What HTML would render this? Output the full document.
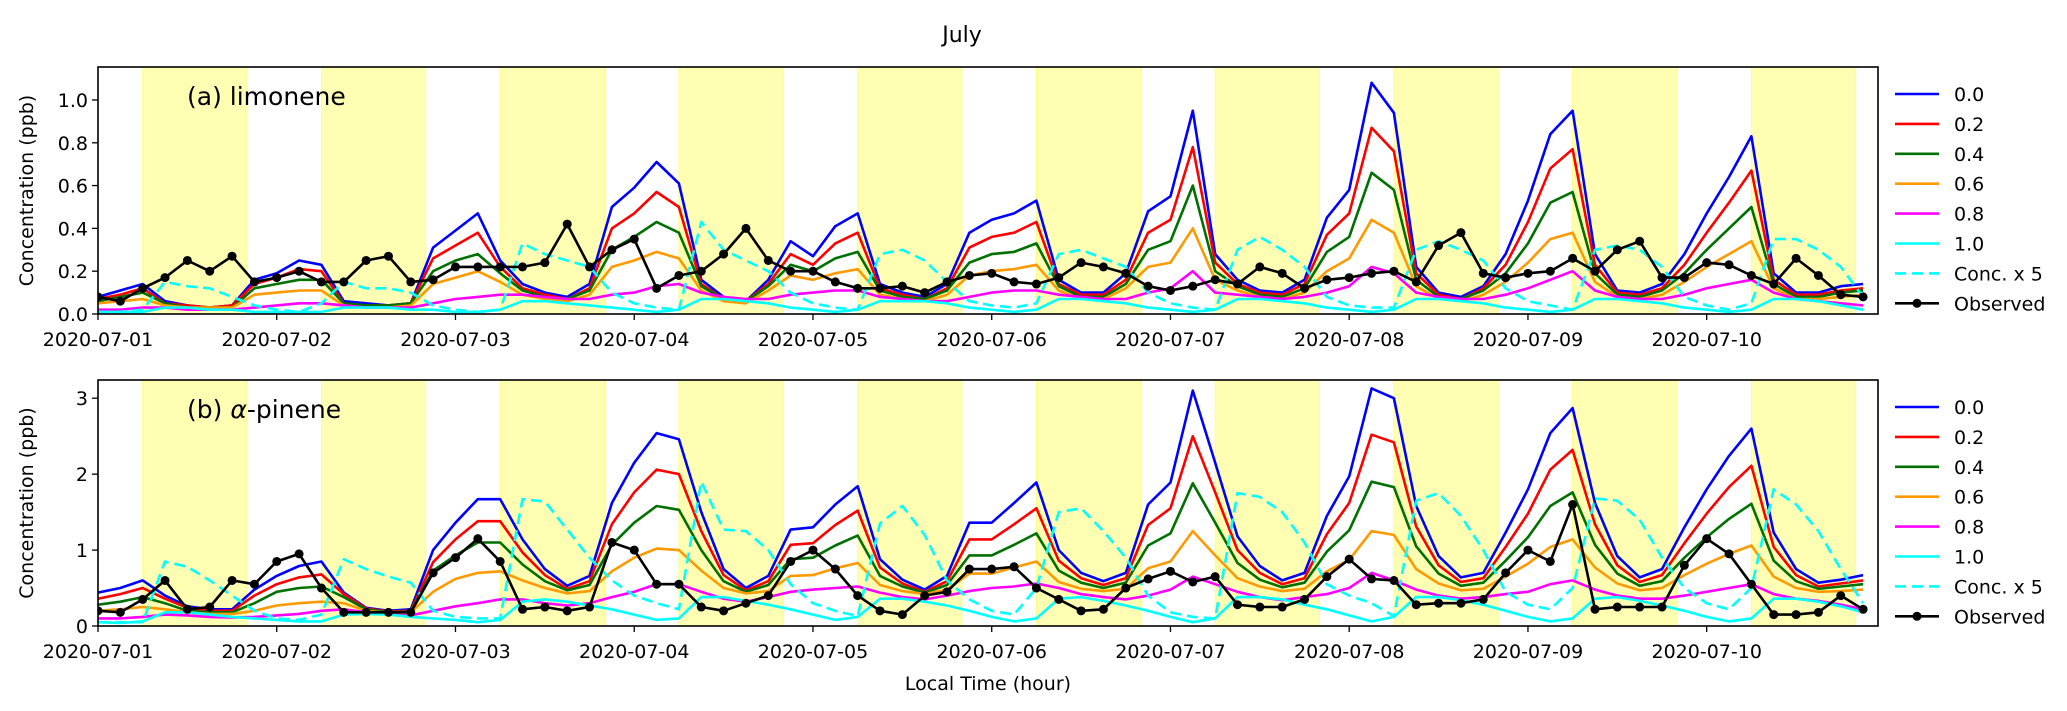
<!DOCTYPE html>
<html><head><meta charset="utf-8"><style>
html,body{margin:0;padding:0;background:#fff;}
svg{display:block;font-family:"DejaVu Sans","Liberation Sans",sans-serif;}
</style></head><body>
<svg id="fig" width="2067" height="711" viewBox="0 0 2067 711" xmlns="http://www.w3.org/2000/svg">
<text x="962" y="42" font-size="22" text-anchor="middle">July</text>
<text x="988" y="690" font-size="19" text-anchor="middle">Local Time (hour)</text>
</svg>
<script>
const hours=[];for(let h=0;h<=237;h+=3)hours.push(h);
const dayLabels=["2020-07-01","2020-07-02","2020-07-03","2020-07-04","2020-07-05","2020-07-06","2020-07-07","2020-07-08","2020-07-09","2020-07-10"];
const seriesNames=["0.0","0.2","0.4","0.6","0.8","1.0"];
const aTicks=[0,0.2,0.4,0.6,0.8,1.0];
const bTicks=[0,1,2,3];
const dayStart=[6,30,54,78,102,126,150,174,198,222];
const dayEnd=[20,44,68,92,116,140,164,188,212,236];

const A0=[0.08,0.11,0.14,0.06,0.04,0.03,0.04,0.16,0.19,0.25,0.23,0.06,0.05,0.04,0.05,0.31,0.39,0.47,0.25,0.14,0.10,0.08,0.14,0.50,0.59,0.71,0.61,0.16,0.08,0.06,0.16,0.34,0.27,0.41,0.47,0.14,0.10,0.08,0.14,0.38,0.44,0.47,0.53,0.16,0.10,0.10,0.19,0.48,0.55,0.95,0.28,0.16,0.11,0.10,0.16,0.45,0.58,1.08,0.94,0.22,0.10,0.08,0.13,0.28,0.53,0.84,0.95,0.28,0.11,0.10,0.14,0.28,0.47,0.64,0.83,0.19,0.10,0.10,0.13,0.14];
const A2=[0.07,0.09,0.12,0.05,0.04,0.03,0.04,0.14,0.17,0.21,0.2,0.05,0.04,0.04,0.05,0.26,0.32,0.38,0.22,0.12,0.09,0.07,0.12,0.4,0.47,0.57,0.5,0.14,0.07,0.06,0.14,0.28,0.23,0.33,0.38,0.12,0.09,0.07,0.12,0.31,0.36,0.38,0.43,0.14,0.09,0.09,0.16,0.38,0.44,0.78,0.24,0.14,0.1,0.09,0.14,0.37,0.47,0.87,0.76,0.19,0.09,0.07,0.12,0.23,0.43,0.68,0.77,0.23,0.1,0.09,0.12,0.23,0.38,0.52,0.67,0.16,0.09,0.09,0.11,0.12];
const A4=[0.06,0.08,0.1,0.05,0.03,0.03,0.03,0.12,0.14,0.16,0.16,0.05,0.04,0.04,0.05,0.2,0.25,0.28,0.19,0.11,0.08,0.07,0.11,0.3,0.36,0.43,0.38,0.13,0.07,0.06,0.13,0.23,0.2,0.26,0.29,0.11,0.08,0.07,0.11,0.24,0.28,0.29,0.33,0.13,0.08,0.08,0.14,0.3,0.34,0.6,0.2,0.13,0.09,0.08,0.12,0.29,0.36,0.66,0.58,0.16,0.08,0.07,0.11,0.19,0.33,0.52,0.57,0.19,0.09,0.08,0.11,0.19,0.3,0.4,0.5,0.14,0.08,0.08,0.1,0.11];
const A6=[0.05,0.06,0.07,0.04,0.03,0.03,0.03,0.09,0.1,0.11,0.11,0.04,0.03,0.03,0.04,0.14,0.17,0.2,0.15,0.09,0.07,0.06,0.09,0.22,0.25,0.29,0.26,0.11,0.06,0.05,0.11,0.18,0.16,0.19,0.21,0.09,0.07,0.06,0.09,0.18,0.2,0.21,0.23,0.11,0.07,0.07,0.12,0.22,0.24,0.4,0.16,0.11,0.08,0.07,0.1,0.2,0.26,0.44,0.38,0.13,0.07,0.06,0.09,0.15,0.24,0.35,0.38,0.15,0.08,0.07,0.09,0.15,0.22,0.28,0.34,0.12,0.07,0.07,0.08,0.09];
const A8=[0.02,0.02,0.03,0.03,0.02,0.02,0.02,0.03,0.04,0.05,0.05,0.04,0.03,0.03,0.03,0.05,0.07,0.08,0.09,0.09,0.08,0.07,0.07,0.09,0.1,0.13,0.14,0.1,0.08,0.07,0.07,0.09,0.1,0.11,0.11,0.08,0.07,0.06,0.06,0.08,0.1,0.11,0.11,0.09,0.08,0.07,0.07,0.1,0.12,0.2,0.1,0.09,0.08,0.07,0.08,0.1,0.13,0.22,0.19,0.1,0.08,0.07,0.07,0.09,0.12,0.16,0.2,0.11,0.08,0.07,0.07,0.09,0.12,0.14,0.16,0.1,0.07,0.06,0.05,0.04];
const A10=[0.01,0.01,0.01,0.03,0.03,0.02,0.02,0.01,0.01,0.01,0.01,0.03,0.03,0.03,0.02,0.02,0.01,0.01,0.02,0.06,0.06,0.05,0.04,0.03,0.02,0.01,0.02,0.07,0.07,0.06,0.05,0.03,0.02,0.01,0.02,0.06,0.06,0.06,0.05,0.03,0.02,0.01,0.02,0.07,0.07,0.06,0.05,0.03,0.02,0.01,0.02,0.07,0.07,0.06,0.05,0.03,0.02,0.01,0.02,0.07,0.07,0.06,0.05,0.03,0.02,0.01,0.02,0.07,0.07,0.06,0.05,0.03,0.02,0.01,0.02,0.07,0.07,0.06,0.04,0.02];
const AConc=[0.01,0.01,0.02,0.15,0.13,0.12,0.08,0.04,0.02,0.01,0.05,0.15,0.12,0.12,0.1,0.04,0.02,0.01,0.02,0.33,0.28,0.25,0.22,0.1,0.05,0.03,0.02,0.43,0.3,0.25,0.2,0.1,0.05,0.03,0.02,0.28,0.3,0.25,0.15,0.06,0.04,0.03,0.05,0.28,0.3,0.26,0.22,0.1,0.05,0.03,0.02,0.3,0.36,0.3,0.22,0.08,0.04,0.03,0.03,0.3,0.34,0.3,0.25,0.12,0.06,0.04,0.02,0.3,0.32,0.3,0.22,0.08,0.04,0.02,0.05,0.35,0.35,0.3,0.22,0.08];
const AObs=[0.08,0.06,0.12,0.17,0.25,0.2,0.27,0.15,0.17,0.2,0.15,0.15,0.25,0.27,0.15,0.16,0.22,0.22,0.22,0.22,0.24,0.42,0.22,0.3,0.35,0.12,0.18,0.2,0.28,0.4,0.25,0.2,0.2,0.15,0.12,0.12,0.13,0.1,0.15,0.18,0.19,0.15,0.14,0.17,0.24,0.22,0.19,0.13,0.11,0.13,0.16,0.14,0.22,0.19,0.12,0.16,0.17,0.19,0.2,0.15,0.32,0.38,0.19,0.17,0.19,0.2,0.26,0.2,0.3,0.34,0.17,0.17,0.24,0.23,0.18,0.14,0.26,0.18,0.09,0.08];

const B0=[0.44,0.50,0.60,0.40,0.26,0.22,0.22,0.48,0.66,0.79,0.85,0.44,0.24,0.20,0.22,1.00,1.36,1.67,1.67,1.14,0.75,0.53,0.66,1.62,2.15,2.54,2.46,1.50,0.75,0.50,0.66,1.27,1.30,1.60,1.84,0.88,0.61,0.48,0.66,1.36,1.36,1.62,1.89,1.00,0.70,0.59,0.70,1.60,1.89,3.10,2.15,1.18,0.79,0.60,0.70,1.45,1.97,3.13,3.00,1.58,0.92,0.64,0.70,1.23,1.80,2.54,2.87,1.62,0.92,0.64,0.75,1.30,1.80,2.24,2.60,1.23,0.75,0.57,0.61,0.67];
const B2=[0.36,0.42,0.50,0.36,0.24,0.2,0.2,0.4,0.55,0.64,0.68,0.42,0.23,0.19,0.2,0.84,1.14,1.38,1.38,0.97,0.67,0.49,0.59,1.34,1.76,2.06,2.0,1.25,0.67,0.47,0.59,1.07,1.09,1.33,1.52,0.77,0.56,0.45,0.59,1.14,1.14,1.34,1.55,0.86,0.63,0.54,0.63,1.33,1.55,2.5,1.76,1.0,0.70,0.55,0.63,1.21,1.62,2.52,2.42,1.31,0.8,0.58,0.63,1.04,1.48,2.06,2.32,1.34,0.8,0.58,0.67,1.09,1.48,1.83,2.11,1.04,0.67,0.52,0.56,0.6];
const B4=[0.28,0.32,0.38,0.3,0.2,0.18,0.18,0.3,0.45,0.5,0.52,0.38,0.22,0.18,0.19,0.73,0.93,1.1,1.1,0.81,0.59,0.47,0.54,1.07,1.36,1.58,1.53,1.0,0.59,0.45,0.54,0.88,0.9,1.06,1.19,0.66,0.52,0.44,0.54,0.93,0.93,1.07,1.22,0.73,0.57,0.5,0.57,1.06,1.22,1.88,1.36,0.83,0.61,0.51,0.57,0.98,1.26,1.9,1.83,1.05,0.69,0.53,0.57,0.86,1.17,1.58,1.76,1.07,0.69,0.53,0.59,0.9,1.17,1.41,1.61,0.86,0.59,0.49,0.52,0.55];
const B6=[0.2,0.22,0.25,0.22,0.18,0.16,0.16,0.2,0.27,0.3,0.32,0.3,0.2,0.17,0.18,0.45,0.62,0.7,0.72,0.6,0.5,0.43,0.46,0.72,0.9,1.02,1.0,0.73,0.5,0.43,0.46,0.66,0.67,0.76,0.83,0.54,0.46,0.42,0.48,0.69,0.69,0.77,0.85,0.58,0.49,0.46,0.49,0.76,0.85,1.25,0.93,0.63,0.52,0.46,0.49,0.72,0.87,1.25,1.2,0.75,0.56,0.47,0.49,0.65,0.82,1.04,1.14,0.77,0.56,0.47,0.5,0.67,0.82,0.95,1.06,0.65,0.5,0.45,0.46,0.48];
const B8=[0.1,0.1,0.12,0.15,0.14,0.12,0.11,0.12,0.14,0.16,0.2,0.22,0.18,0.15,0.14,0.2,0.26,0.3,0.35,0.35,0.3,0.27,0.3,0.38,0.45,0.55,0.55,0.45,0.36,0.32,0.38,0.45,0.48,0.5,0.52,0.44,0.38,0.35,0.4,0.46,0.5,0.52,0.56,0.5,0.42,0.38,0.35,0.4,0.48,0.65,0.55,0.45,0.38,0.34,0.38,0.42,0.5,0.7,0.6,0.48,0.4,0.36,0.38,0.42,0.45,0.55,0.6,0.48,0.4,0.36,0.36,0.4,0.45,0.5,0.55,0.42,0.36,0.33,0.28,0.22];
const B10=[0.05,0.04,0.06,0.18,0.18,0.15,0.12,0.1,0.08,0.06,0.06,0.15,0.16,0.15,0.12,0.1,0.08,0.05,0.08,0.32,0.35,0.32,0.27,0.22,0.15,0.08,0.1,0.38,0.38,0.33,0.28,0.22,0.15,0.08,0.12,0.36,0.36,0.32,0.27,0.2,0.12,0.06,0.1,0.36,0.38,0.33,0.27,0.2,0.12,0.05,0.1,0.38,0.38,0.35,0.28,0.22,0.14,0.06,0.12,0.38,0.38,0.34,0.28,0.2,0.12,0.06,0.1,0.36,0.38,0.33,0.27,0.2,0.12,0.06,0.1,0.36,0.36,0.32,0.26,0.18];
const BConc=[0.05,0.05,0.05,0.85,0.78,0.6,0.4,0.2,0.1,0.08,0.15,0.88,0.75,0.65,0.57,0.2,0.12,0.1,0.1,1.67,1.64,1.27,0.9,0.6,0.4,0.3,0.22,1.9,1.27,1.25,1.0,0.55,0.3,0.2,0.13,1.35,1.58,1.2,0.6,0.35,0.2,0.15,0.5,1.5,1.55,1.25,0.9,0.4,0.18,0.12,0.1,1.75,1.7,1.5,1.1,0.55,0.4,0.3,0.13,1.65,1.75,1.45,1.0,0.45,0.28,0.22,0.5,1.68,1.65,1.4,0.9,0.5,0.3,0.22,0.5,1.8,1.6,1.25,0.75,0.3];
const BObs=[0.2,0.18,0.35,0.6,0.22,0.25,0.6,0.55,0.85,0.95,0.5,0.18,0.18,0.18,0.18,0.7,0.9,1.15,0.85,0.22,0.25,0.2,0.25,1.1,1.0,0.55,0.55,0.25,0.2,0.3,0.4,0.85,1.0,0.75,0.4,0.2,0.15,0.4,0.45,0.75,0.75,0.78,0.5,0.35,0.2,0.22,0.5,0.62,0.72,0.58,0.65,0.28,0.25,0.25,0.35,0.65,0.88,0.62,0.6,0.28,0.3,0.3,0.35,0.7,1.0,0.85,1.6,0.22,0.25,0.25,0.25,0.8,1.15,0.95,0.55,0.15,0.15,0.18,0.4,0.22];

const NS="http://www.w3.org/2000/svg";
const svg=document.getElementById('fig');
const colors=["#0000ff","#ff0000","#007000","#ff9900","#ff00ff","#00ffff"];
function mk(tag,attrs,parent){const e=document.createElementNS(NS,tag);for(const k in attrs)e.setAttribute(k,attrs[k]);(parent||svg).appendChild(e);return e;}
const L=98,R=1878,XMAX=239;
function xs(h){return L+(R-L)*h/XMAX;}

function panel(cfg){
  const g=mk('g',{});
  
  
  const T=cfg.top,B=cfg.bottom;
  const ys=v=>B-(B-T)*v/cfg.ymax;
  for(let i=0;i<dayStart.length;i++){
    const r=mk('rect',{x:xs(dayStart[i]),y:T,width:xs(dayEnd[i])-xs(dayStart[i]),height:B-T,fill:'#ffffb4',stroke:'#ffff80','stroke-width':1},g);
    
    
  }
  const clipId='clip'+cfg.name;
  const cp=mk('clipPath',{id:clipId},g);mk('rect',{x:L,y:T,width:R-L,height:B-T},cp);
  const lines=mk('g',{'clip-path':'url(#'+clipId+')'},g);
  function path(vals,color,extra,name){
    const d=vals.map((v,i)=>(i?'L':'M')+xs(hours[i]).toFixed(1)+' '+ys(v).toFixed(1)).join(' ');
    const p=mk('path',Object.assign({d:d,fill:'none',stroke:color,'stroke-width':2.6,'stroke-linejoin':'round'},extra||{}),lines);
    
    
  }
  cfg.series.forEach((s,k)=>path(s,colors[k],null,'line-'+seriesNames[k]));
  path(cfg.conc,'#00ffff',{'stroke-dasharray':'11 6'},'line-conc-x5');
  path(cfg.obs,'#000',null,'line-observed');
  cfg.obs.forEach((v,i)=>{
    const c=mk('circle',{cx:xs(hours[i]),cy:ys(v),r:4.5,fill:'#000'},lines);
    
    
  });
  const fr=mk('rect',{x:L,y:T,width:R-L,height:B-T,fill:'none',stroke:'#000','stroke-width':1.6},g);
  
  
  cfg.ticks.forEach(t=>{
    const y=ys(t);
    mk('line',{x1:L-6,x2:L,y1:y,y2:y,stroke:'#000','stroke-width':1.3},g);
    const tx=mk('text',{x:L-10,y:y+7,'font-size':19,'text-anchor':'end'},g);
    tx.textContent=cfg.fmt(t);
    
    
  });
  dayLabels.forEach((lab,i)=>{
    const x=xs(i*24);
    mk('line',{x1:x,x2:x,y1:B,y2:B+6,stroke:'#000','stroke-width':1.3},g);
    const tx=mk('text',{x:x,y:B+32,'font-size':19,'text-anchor':'middle'},g);
    tx.textContent=lab;
    
    
  });
  const yl=mk('text',{x:0,y:0,'font-size':19,'text-anchor':'middle',transform:'translate(33,'+((T+B)/2)+') rotate(-90)'},g);
  yl.textContent='Concentration (ppb)';
  
  
  const pl=mk('text',{x:187,y:T+38,'font-size':25},g);
  pl.innerHTML=cfg.label;
  
  
  const lg=mk('g',{},g);
  
  
  const names=seriesNames.concat(['Conc. x 5','Observed']);
  names.forEach((n,k)=>{
    const y=T+27+k*29.9;
    const e=mk('g',{},lg);
    
    
    const col=k<6?colors[k]:(k==6?'#00ffff':'#000');
    const ln=mk('line',{x1:1895,x2:1939,y1:y,y2:y,stroke:col,'stroke-width':2.6},e);
    if(k==6)ln.setAttribute('stroke-dasharray','11 6');
    if(k==7)mk('circle',{cx:1917,cy:y,r:4.5,fill:'#000'},e);
    const tx=mk('text',{x:1954,y:y+7,'font-size':19},e);
    tx.textContent=n;
  });
}
panel({name:'panel-a-limonene',top:67,bottom:314,ymax:1.154,ticks:aTicks,fmt:t=>t.toFixed(1),label:'(a) limonene',series:[A0,A2,A4,A6,A8,A10],conc:AConc,obs:AObs});
panel({name:'panel-b-alpha-pinene',top:380,bottom:626,ymax:3.24,ticks:bTicks,fmt:t=>String(t),label:'(b) <tspan font-style="italic">α</tspan>-pinene',series:[B0,B2,B4,B6,B8,B10],conc:BConc,obs:BObs});
</script>
</body></html>
